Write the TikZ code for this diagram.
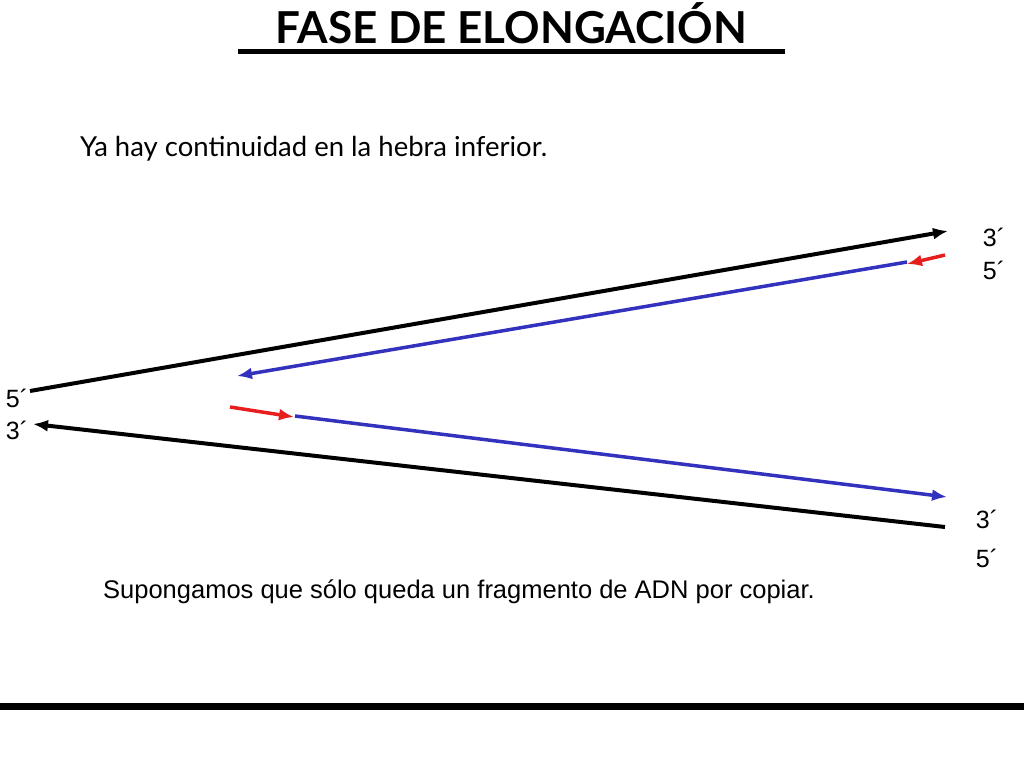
\documentclass[tikz,border=0pt]{standalone}
\usepackage{fontspec}
\setmainfont{Liberation Sans}
\newfontfamily\comic{Lato}
\usetikzlibrary{arrows.meta}
\definecolor{dnablue}{RGB}{50,50,190}
\definecolor{dnared}{RGB}{230,30,30}
\begin{document}
\begin{tikzpicture}[x=1pt,y=-1pt,
  strand/.style={line width=4pt,black},
  newb/.style={line width=3.5pt,dnablue},
  primer/.style={line width=3.5pt,dnared},
  tip/.style={-{Latex[length=15pt,width=12pt]}},
  lbl/.style={font=\fontsize{25}{27}\selectfont,inner sep=0pt},
  every node/.style={inner sep=0pt}]
\useasboundingbox (0,0) rectangle (1024,768);
\fill[white] (0,0) rectangle (1024,768);
% title
\node[anchor=base] (title) at (511,44) {\comic\bfseries\fontsize{44}{48}\selectfont FASE DE ELONGACIÓN};
\coordinate (ul1) at (238,52);
\coordinate (ul2) at (785,52);
\draw[line width=5pt] (ul1) -- (ul2);
\node[anchor=west] (t1) at (80,149) {\comic\fontsize{27.5}{30}\selectfont Ya hay continuidad en la hebra inferior.};
% coordinates
\coordinate (a1) at (30,391);
\coordinate (a2) at (948,231);
\coordinate (b1) at (907,262);
\coordinate (b2) at (237,376);
\coordinate (r1) at (945,255);
\coordinate (r2) at (907,264);
\coordinate (c1) at (945,527);
\coordinate (c2) at (33,424);
\coordinate (s1) at (230,407);
\coordinate (s2) at (294,417);
\coordinate (d1) at (295,416);
\coordinate (d2) at (947,497);
% strands
\draw[strand,tip] (a1) -- (a2);
\draw[newb,tip] (b1) -- (b2);
\draw[primer,tip] (r1) -- (r2);
\draw[strand,tip] (c1) -- (c2);
\draw[primer,tip] (s1) -- (s2);
\draw[newb,tip] (d1) -- (d2);
% labels
\node[lbl] (l3a) at (994,237) {3´};
\node[lbl] (l5a) at (994,270) {5´};
\node[lbl] (l5b) at (17,398) {5´};
\node[lbl] (l3b) at (17,430) {3´};
\node[lbl] (l3c) at (987,519) {3´};
\node[lbl] (l5c) at (987,558) {5´};
\node[anchor=west,font=\fontsize{25.5}{28}\selectfont] (t2) at (103,592) {Supongamos que sólo queda un fragmento de ADN por copiar.};
\coordinate (bl1) at (0,706);
\coordinate (bl2) at (1024,706);
\draw[line width=7pt] (bl1) -- (bl2);
\end{tikzpicture}
\end{document}
